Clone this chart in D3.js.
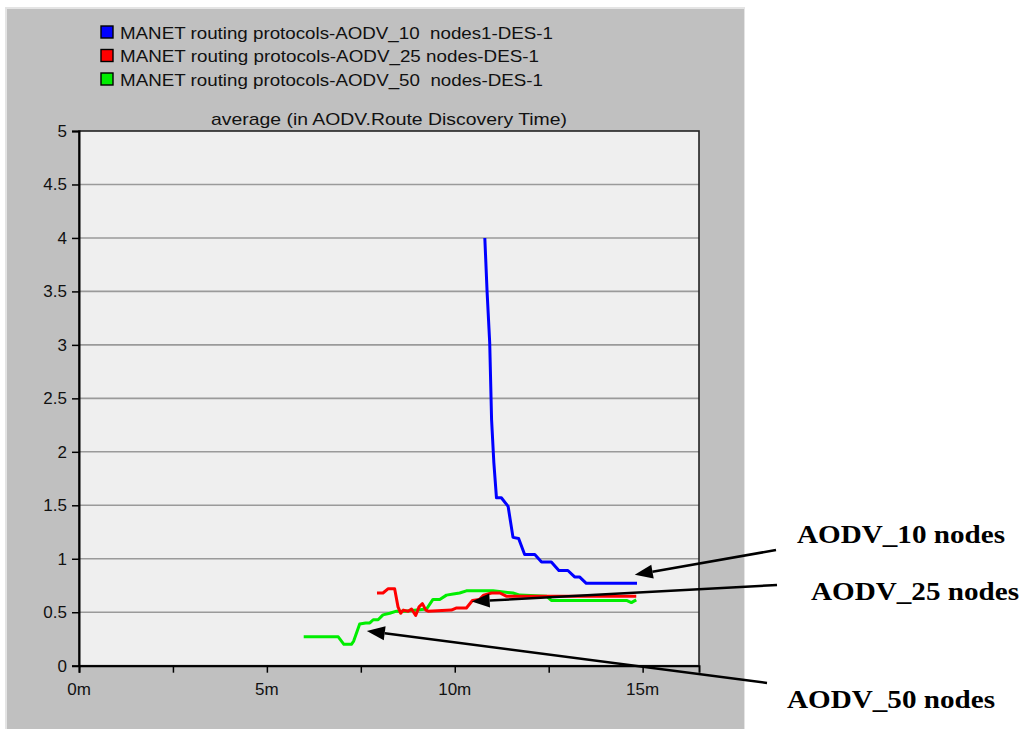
<!DOCTYPE html>
<html>
<head>
<meta charset="utf-8">
<script src="https://cdn.jsdelivr.net/npm/d3@7"></script>
<style>
  body { margin: 0; background: #fff; }
  text { white-space: pre; }
</style>
</head>
<body>
<div id="chart"></div>
<script>
// series: time in minutes, average route discovery time
const seriesNames = [
  "MANET routing protocols-AODV_10  nodes1-DES-1",
  "MANET routing protocols-AODV_25 nodes-DES-1",
  "MANET routing protocols-AODV_50  nodes-DES-1"
];
const seriesColors = ["#0000ff", "#ff0000", "#00ee00"];

const aodv10T = [10.8, 10.86, 10.93, 10.98, 11.04, 11.11, 11.24, 11.42, 11.55, 11.7, 11.86, 12.13, 12.31, 12.57, 12.77, 13.01, 13.19, 13.32, 13.5, 14.85];
const aodv10V = [4.0, 3.5, 3.02, 2.3, 1.9, 1.57, 1.57, 1.49, 1.2, 1.19, 1.04, 1.04, 0.97, 0.97, 0.89, 0.89, 0.83, 0.83, 0.77, 0.77];

const aodv25T = [7.93, 8.09, 8.23, 8.4, 8.49, 8.56, 8.63, 8.76, 8.85, 8.96, 9.05, 9.14, 9.23, 9.29, 9.91, 10.05, 10.31, 10.47, 10.66, 10.77, 10.98, 11.2, 11.37, 14.83];
const aodv25V = [0.68, 0.68, 0.72, 0.72, 0.55, 0.49, 0.52, 0.51, 0.53, 0.47, 0.55, 0.58, 0.52, 0.51, 0.52, 0.54, 0.54, 0.61, 0.62, 0.66, 0.68, 0.68, 0.65, 0.65];

const aodv50T = [5.98, 6.9, 7.05, 7.25, 7.31, 7.47, 7.63, 7.74, 7.83, 7.96, 8.09, 8.27, 8.45, 8.67, 9.25, 9.42, 9.6, 9.78, 9.96, 10.13, 10.31, 11.02, 11.55, 11.73, 12.44, 12.57, 14.57, 14.7, 14.83];
const aodv50V = [0.27, 0.27, 0.2, 0.2, 0.23, 0.39, 0.4, 0.4, 0.43, 0.43, 0.475, 0.49, 0.51, 0.51, 0.53, 0.62, 0.62, 0.66, 0.67, 0.68, 0.7, 0.7, 0.68, 0.66, 0.65, 0.61, 0.61, 0.59, 0.615];

const yTicks = [0, 0.5, 1, 1.5, 2, 2.5, 3, 3.5, 4, 4.5, 5];
const xTicks = [0, 2.5, 5, 7.5, 10, 12.5, 15];
const xLabels = [0, 5, 10, 15];

const title = "average (in AODV.Route Discovery Time)";
const annotations = ["AODV_10 nodes", "AODV_25 nodes", "AODV_50 nodes"];
// arrow tips in data units
const arrowTips = [[14.79, 0.85], [10.45, 0.6], [7.66, 0.325]];

const W = 1022, H = 729;
const FONT = "'Liberation Sans', Arial, sans-serif";
const svg = d3.select("#chart").append("svg")
  .attr("width", W).attr("height", H)
  .style("font-family", FONT);

// gray panel
svg.append("rect").attr("x", 5).attr("y", 7).attr("width", 740).attr("height", 730)
  .attr("fill", "#e4e4e4");
svg.append("rect").attr("x", 7).attr("y", 9).attr("width", 737).attr("height", 730)
  .attr("fill", "#c0c0c0");

const x = d3.scaleLinear().domain([0, 16.5]).range([79, 699]);
const y = d3.scaleLinear().domain([0, 5]).range([665.7, 131]);

// plot area
svg.append("rect")
  .attr("x", x(0)).attr("y", y(5))
  .attr("width", x(16.5) - x(0)).attr("height", y(0) - y(5))
  .attr("fill", "#efefef");

// grid
svg.append("g").selectAll("line")
  .data(yTicks.filter(d => d > 0 && d < 5))
  .join("line")
  .attr("x1", x(0)).attr("x2", x(16.5))
  .attr("y1", d => y(d)).attr("y2", d => y(d))
  .attr("stroke", "#9a9a9a").attr("stroke-width", 1.6);

// frame
svg.append("rect")
  .attr("x", x(0)).attr("y", y(5))
  .attr("width", x(16.5) - x(0)).attr("height", y(0) - y(5))
  .attr("fill", "none").attr("stroke", "#222").attr("stroke-width", 1.6);

// y axis
const yAxis = svg.append("g")
  .attr("transform", `translate(${x(0)},0)`)
  .call(d3.axisLeft(y).tickValues(yTicks).tickSize(7).tickPadding(5).tickFormat(d3.format("")));
yAxis.select(".domain").attr("stroke", "#000").attr("stroke-width", 2);
yAxis.selectAll(".tick line").attr("stroke", "#000").attr("stroke-width", 1.5);
yAxis.selectAll("text").attr("font-size", 17).attr("fill", "#111")
  .attr("font-family", FONT);

// x axis
const xAxis = svg.append("g")
  .attr("transform", `translate(0,${y(0)})`)
  .call(d3.axisBottom(x).tickValues(xTicks).tickSize(7).tickFormat(() => ""));
xAxis.select(".domain").attr("stroke", "#000").attr("stroke-width", 2);
xAxis.selectAll(".tick line").attr("stroke", "#000").attr("stroke-width", 1.5);

svg.append("g").selectAll("text")
  .data(xLabels)
  .join("text")
  .attr("x", d => x(d)).attr("y", y(0) + 29.5)
  .attr("text-anchor", "middle")
  .attr("font-size", 17).attr("fill", "#111")
  .text(d => d + "m");

// title
svg.append("text")
  .attr("x", (x(0) + x(16.5)) / 2).attr("y", 125)
  .attr("text-anchor", "middle")
  .attr("font-size", 17).attr("fill", "#111")
  .attr("textLength", 356).attr("lengthAdjust", "spacingAndGlyphs")
  .text(title);

// legend
const legendWidths = [433, 419, 423];
const legendBase = [38.5, 62, 85.5];
seriesNames.forEach((name, i) => {
  const ly = legendBase[i];
  svg.append("rect")
    .attr("x", 101).attr("y", ly - 12.5).attr("width", 12).attr("height", 12)
    .attr("fill", seriesColors[i]).attr("stroke", "#000").attr("stroke-width", 1.4);
  svg.append("text")
    .attr("x", 120).attr("y", ly)
    .attr("font-size", 17).attr("fill", "#111")
    .attr("textLength", legendWidths[i]).attr("lengthAdjust", "spacingAndGlyphs")
    .text(name);
});

// lines
const series = [
  aodv10T.map((t, i) => [t, aodv10V[i]]),
  aodv25T.map((t, i) => [t, aodv25V[i]]),
  aodv50T.map((t, i) => [t, aodv50V[i]])
];
const line = d3.line().x(d => x(d[0])).y(d => y(d[1]));
// draw green first, then red, then blue
[2, 1, 0].forEach(i => {
  svg.append("path")
    .datum(series[i])
    .attr("d", line)
    .attr("fill", "none")
    .attr("stroke", seriesColors[i])
    .attr("stroke-width", 3)
    .attr("stroke-linejoin", "round");
});

// annotations
const labelPos = [[797, 543], [811, 600], [787, 708]];
const lineStarts = [[776, 550], [777, 585], [767, 683]];
annotations.forEach((a, i) => {
  svg.append("text")
    .attr("x", labelPos[i][0]).attr("y", labelPos[i][1])
    .attr("font-family", "'Liberation Serif', 'Times New Roman', serif")
    .attr("font-weight", "bold").attr("font-size", 25).attr("fill", "#000")
    .attr("textLength", 208).attr("lengthAdjust", "spacingAndGlyphs")
    .text(a);

  const tx = x(arrowTips[i][0]), ty = y(arrowTips[i][1]);
  const sx = lineStarts[i][0], sy = lineStarts[i][1];
  const ang = Math.atan2(ty - sy, tx - sx);
  const len = 18, half = 7;
  const bx = tx - len * Math.cos(ang), by = ty - len * Math.sin(ang);
  svg.append("line")
    .attr("x1", sx).attr("y1", sy).attr("x2", bx).attr("y2", by)
    .attr("stroke", "#000").attr("stroke-width", 2.5);
  const p1 = [bx + half * Math.sin(ang), by - half * Math.cos(ang)];
  const p2 = [bx - half * Math.sin(ang), by + half * Math.cos(ang)];
  svg.append("path")
    .attr("d", `M${tx},${ty}L${p1[0]},${p1[1]}L${p2[0]},${p2[1]}Z`)
    .attr("fill", "#000");
});
</script>
</body>
</html>
